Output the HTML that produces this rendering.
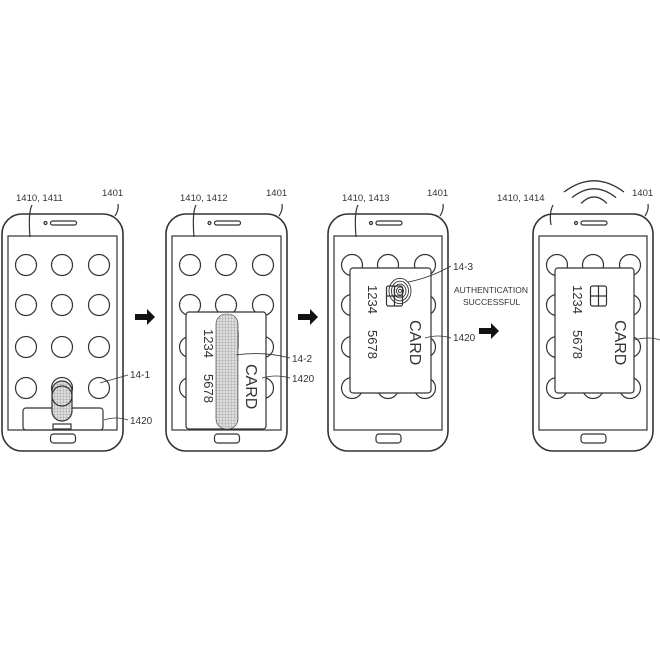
<!DOCTYPE html>
<html><head><meta charset="utf-8">
<style>
html,body{margin:0;padding:0;background:#fff;width:660px;height:653px;overflow:hidden}
svg{display:block}
text{font-family:"Liberation Sans",sans-serif;fill:#333}
</style></head>
<body>
<svg id="s" width="660" height="653" viewBox="0 0 660 653" xmlns="http://www.w3.org/2000/svg">
<defs>
<pattern id="hatch" width="3" height="3" patternUnits="userSpaceOnUse">
<rect width="3" height="3" fill="#ddd"/><path d="M0 0H3M0 0V3" stroke="#888" stroke-width="0.6"/>
</pattern>
</defs>
<g id="root" fill="none" stroke="#333" stroke-width="1.2"></g>
</svg>
<script>
const NS="http://www.w3.org/2000/svg";
const root=document.getElementById('root');
function el(tag,attrs,parent){const e=document.createElementNS(NS,tag);for(const k in attrs)e.setAttribute(k,attrs[k]);(parent||root).appendChild(e);return e;}
function txt(x,y,s,size,parent,rot){const t=el('text',{x:x,y:y,'font-size':size,stroke:'none',fill:'#333'},parent);if(rot)t.setAttribute('transform','rotate(90 '+x+' '+y+')');t.textContent=s;return t;}

const phones=[
 {x:2,top:214,w:121,bot:451,label:'1410, 1411'},
 {x:166,top:214,w:121,bot:451,label:'1410, 1412'},
 {x:328,top:214,w:120,bot:451,label:'1410, 1413'},
 {x:533,top:214,w:120,bot:451,label:'1410, 1414'}
];
phones.forEach((p,i)=>{
 const g=el('g',{});
 
 
 el('rect',{x:p.x,y:p.top,width:p.w,height:p.bot-p.top,rx:20,ry:20,'stroke-width':1.6},g);
 el('rect',{x:p.x+6,y:p.top+22,width:p.w-12,height:p.bot-p.top-43},g);
 el('rect',{x:p.x+p.w/2-12,y:p.top+7,width:26,height:4,rx:2},g);
 el('circle',{cx:p.x+p.w/2-17,cy:p.top+9,r:1.5},g);
 el('rect',{x:p.x+p.w/2-12,y:p.bot-17,width:25,height:9,rx:3},g);
 const cols=[p.x+24,p.x+60,p.x+97], rows=[p.top+51,p.top+91,p.top+133,p.top+174];
 rows.forEach(ry=>cols.forEach(cx=>el('circle',{cx:cx,cy:ry,r:10.5},g)));
 txt(p.x+(i==3?-36:14),p.top-13,p.label,9.5,g);
 txt(p.x+p.w-21,p.top-18,'1401',9.5,g);
 el('path',{d:'M'+(p.x+(i==3?20:30))+' '+(p.top-9)+' q-4 8 -2 '+(i==3?20:32)},g);
 el('path',{d:'M'+(p.x+p.w-8)+' '+(p.top+2)+' q4 -6 3 -12'},g);
});

function card(x,y,w,h,name,chip){
 const g=el('g',{});
 
 
 el('rect',{x:x,y:y,width:w,height:h,rx:3,fill:'#fff'},g);
 if(chip){
  el('rect',{x:x+w/2-4,y:y+18,width:16,height:20,rx:2},g);
  el('path',{d:'M'+(x+w/2-4)+' '+(y+28)+'h16M'+(x+w/2+4)+' '+(y+18)+'v20'},g);
 }
 txt(x+18,y+17,'1234',13,g,true);
 txt(x+18,y+62,'5678',13,g,true);
 txt(x+60,y+52,'CARD',16,g,true);
 return g;
}
const c1=el('g',{});


el('rect',{x:23,y:408,width:80,height:22,rx:3,fill:'#fff'},c1);
el('rect',{x:53,y:424,width:18,height:5},c1);
el('rect',{x:52,y:381,width:20,height:40,rx:10,fill:'url(#hatch)'},c1);
el('circle',{cx:62,cy:396,r:10},c1);

card(186,312,80,117,'card-sliding',true);
const f2=el('rect',{x:216,y:314,width:22,height:115,rx:10,fill:'url(#hatch)','stroke-width':0.6});



card(350,268,81,125,'card-authenticating',true);
const fp=el('g',{});


[11,8.5,6,3.5,1.5].forEach(r=>el('ellipse',{cx:400,cy:291,rx:r,ry:r*1.15,'stroke-width':0.9},fp));

card(555,268,79,125,'card-ready',true);

const labels=[[130,378,'14-1',[100,383,128,375]],[130,424,'1420',[104,420,128,420]],
 [292,362,'14-2',[236,355,290,358]],[292,382,'1420',[262,378,290,378]],
 [453,270,'14-3',[408,282,451,266]],[453,341,'1420',[425,338,451,338]]];
labels.forEach((l,i)=>{
 const g=el('g',{});
 
 
 el('path',{d:'M'+l[3][0]+' '+l[3][1]+' Q'+((l[3][0]+l[3][2])/2)+' '+(l[3][1]-4)+' '+l[3][2]+' '+l[3][3],'stroke-width':0.8},g);
 txt(l[0],l[1],l[2],10,g);
});
const lb=el('path',{d:'M634 340 q15 -4 26 0','stroke-width':0.8});



[[135,317],[298,317],[479,331]].forEach((a,i)=>{
 const p=el('path',{d:'M'+a[0]+' '+(a[1]-3)+'h12v-5l8 8-8 8v-5h-12z',fill:'#111',stroke:'none'});
 
 
});
const a1=txt(454,293,'AUTHENTICATION',8.5);


const a2=txt(463,305,'SUCCESSFUL',8.5);



const w=el('g',{});


[[30,14],[22,10],[13,6]].forEach(r=>{
 el('path',{d:'M'+(594-r[0])+' '+(206-r[1]+ (30-r[0])*0.2)+' Q594 '+(206-r[1]*2.6)+' '+(594+r[0])+' '+(206-r[1]+(30-r[0])*0.2),'stroke-width':1.3},w);
});
</script>
</body></html>
